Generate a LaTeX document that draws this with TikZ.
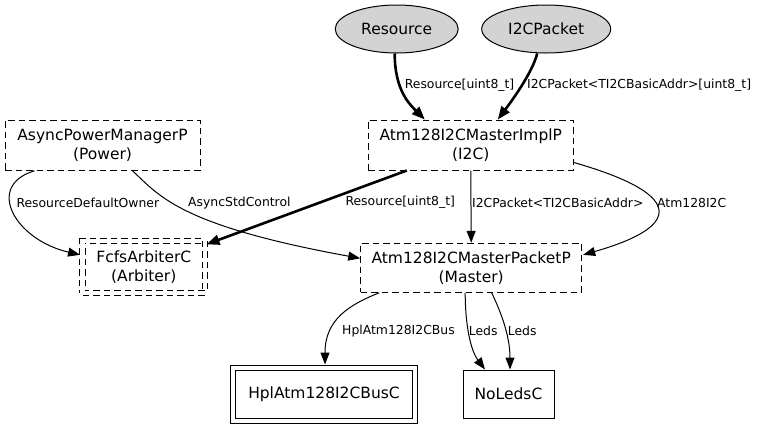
\documentclass[tikz,border=0pt]{standalone}
\usepackage{fontspec}
\setmainfont{DejaVu Sans}
\usetikzlibrary{arrows.meta,shapes.geometric}
\definecolor{ifcgray}{HTML}{D3D3D3}
\begin{document}
\begin{tikzpicture}[
  x=1pt,
  y=-1pt,
  line width=1pt,
  comp/.style={rectangle,draw=black,dashed,dash pattern=on 6.5pt off 4pt,align=center,
    inner sep=0pt,font=\fontsize{15.5pt}{19pt}\selectfont},
  ifc/.style={ellipse,draw=black,fill=ifcgray,inner sep=0pt,
    font=\fontsize{15.5pt}{19pt}\selectfont},
  plain/.style={rectangle,draw=black,inner sep=0pt,font=\fontsize{15.5pt}{19pt}\selectfont},
  twice/.style={double,double distance=4.5pt},
  wire/.style={draw=black,line width=1pt,-{Triangle[length=12pt,width=9pt]}},
  fat/.style={draw=black,line width=2.6pt,-{Triangle[length=13pt,width=10pt]}},
  lbl/.style={anchor=west,inner sep=0pt,font=\fontsize{12.4pt}{14pt}\selectfont}
]
  \useasboundingbox (0,0) rectangle (761,429);

  \node[ifc,minimum width=123,minimum height=48] (res) at (396.7,29) {Resource};
  \node[ifc,minimum width=129,minimum height=48] (pkt) at (546.2,29) {I2CPacket};
  \node[comp,minimum width=205,minimum height=50] (impl) at (470.8,145) {Atm128I2CMasterImplP\\(I2C)};
  \node[comp,minimum width=195,minimum height=50] (power) at (102.5,145.3) {AsyncPowerManagerP\\(Power)};
  \node[comp,twice,minimum width=122.5,minimum height=52] (arb) at (143.8,266.8) {FcfsArbiterC\\(Arbiter)};
  \node[comp,minimum width=221,minimum height=49] (master) at (471.2,267.8) {Atm128I2CMasterPacketP\\(Master)};
  \node[plain,twice,minimum width=182,minimum height=53] (hpl) at (324,394.5) {HplAtm128I2CBusC};
  \node[plain,minimum width=91,minimum height=48] (noleds) at (508.5,394) {NoLedsC};

  \draw[fat] ([xshift=-2pt]res.south) .. controls +(0,37) and +(-15,-15) .. ([xshift=-46pt]impl.north);
  \draw[fat] ([xshift=-9pt]pkt.south) .. controls +(-5,20) and +(12,-16) .. ([xshift=27pt]impl.north);
  \draw[fat] ([xshift=-64pt]impl.south) -- ([xshift=1pt,yshift=-4pt]arb.north east);
  \draw[wire] (impl.south) -- (master.north);
  \draw[wire] ([yshift=8pt]impl.south east) .. controls +(105,30) and +(105,-30) .. ([xshift=1pt,yshift=-12pt]master.north east);
  \draw[wire] ([xshift=30pt]power.south west) .. controls +(-50,15) and +(-65,-15) .. ([xshift=-2pt,yshift=12pt]arb.west);
  \draw[wire] ([xshift=30pt]power.south) .. controls +(27,25) and +(-181,-33) .. ([yshift=9.5pt]master.west);
  \draw[wire] ([xshift=19pt]master.south west) .. controls +(-30,12) and +(0,-45) .. ([xshift=1pt,yshift=3pt]hpl.north);
  \draw[wire] ([xshift=-6pt]master.south) .. controls +(0,30) and +(-15,-20) .. ([xshift=-23.5pt]noleds.north);
  \draw[wire] ([xshift=20.5pt]master.south) .. controls +(12,25) and +(0,-30) .. ([xshift=1.5pt]noleds.north);

  \node[lbl] (l1) at (404.3,85) {Resource[uint8\_t]};
  \node[lbl] (l2) at (526.7,85) {I2CPacket<TI2CBasicAddr>[uint8\_t]};
  \node[lbl] (l3) at (16,202.7) {ResourceDefaultOwner};
  \node[lbl] (l4) at (187.7,202.7) {AsyncStdControl};
  \node[lbl] (l5) at (345,202.7) {Resource[uint8\_t]};
  \node[lbl] (l6) at (471.7,202.7) {I2CPacket<TI2CBasicAddr>};
  \node[lbl] (l7) at (656.7,202.7) {Atm128I2C};
  \node[lbl] (l8) at (341.7,330.7) {HplAtm128I2CBus};
  \node[lbl] (l9) at (468.3,330.7) {Leds};
  \node[lbl] (l10) at (507.3,330.7) {Leds};
\end{tikzpicture}
\end{document}
